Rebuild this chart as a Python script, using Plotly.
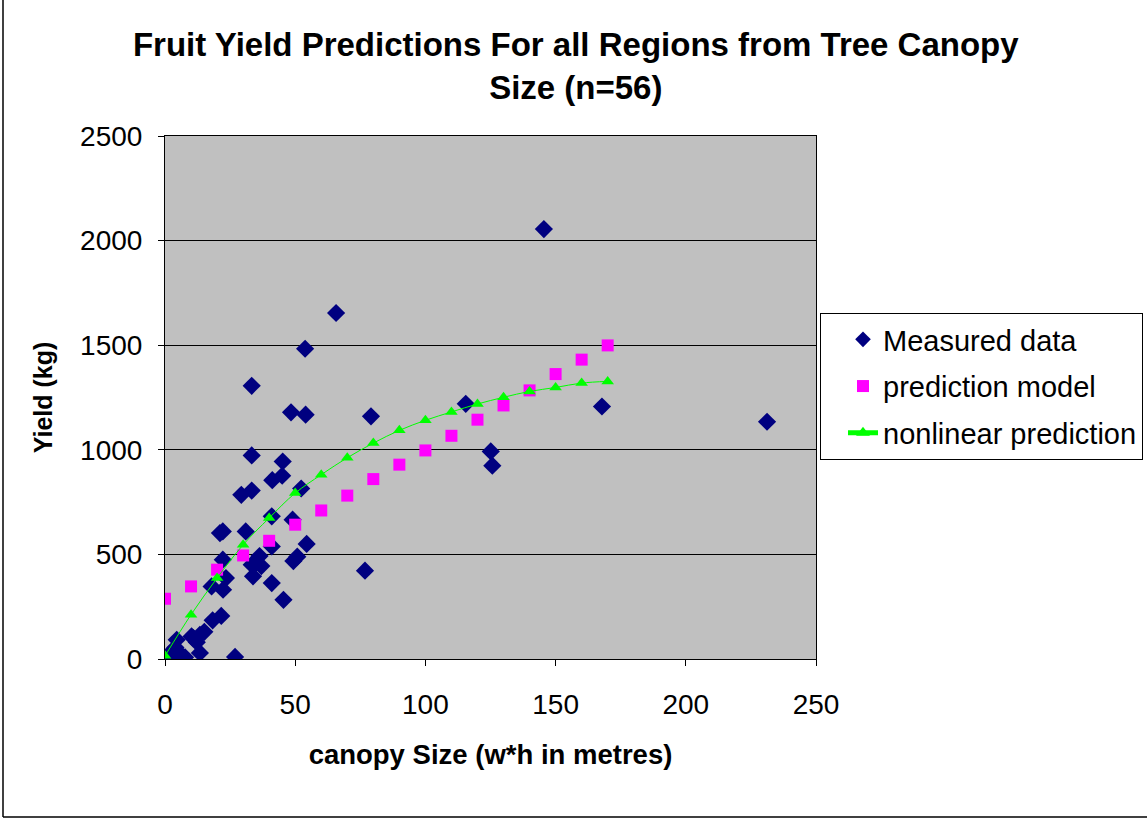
import plotly.graph_objects as go

# Measured data (canopy size, yield)
measured_x = [1.5, 3.2, 4.5, 5.8, 7.7, 4.0, 10.2, 12.2, 13.4, 15.1, 13.4, 18.3, 21.6, 17.9,
              22.3, 23.4, 22.2, 21.1, 22.2, 26.9, 29.3, 33.3, 31.0, 33.3, 33.3, 33.3, 37.0,
              33.8, 36.3, 41.2, 45.0, 45.2, 41.0, 41.0, 41.0, 45.5, 49.0, 50.8, 49.3, 52.3,
              54.4, 48.4, 54.0, 53.8, 65.7, 76.8, 79.1, 115.5, 125.1, 125.7, 145.5, 167.8,
              231.2, 10.9, 35.0, 2.5]
measured_y = [2, 44, 92, 25, 8, 55, 108, 80, 116, 130, 29, 185, 206, 347,
              331, 387, 475, 602, 610, 10, 785, 805, 610, 973, 1306, 451, 444,
              395, 492, 855, 876, 944, 682, 538, 363, 283, 666, 489, 468, 815,
              550, 1179, 1168, 1483, 1654, 422, 1160, 1220, 992, 924, 2055, 1207,
              1134, 100, 460, 20]

# Prediction model
pred_x = [0, 10, 20, 30, 40, 50, 60, 70, 80, 90, 100, 110, 120, 130, 140, 150, 160, 170]
pred_y = [288, 347, 427, 495, 565, 642, 710, 781, 860, 929, 997, 1067, 1144, 1212, 1284,
          1362, 1431, 1499]

# Nonlinear prediction
nl_x = [0, 10, 20, 30, 40, 50, 60, 70, 80, 90, 100, 110, 120, 130, 140, 150, 160, 170]
nl_y = [15, 212, 387, 546, 674, 793, 881, 962, 1032, 1093, 1141, 1181, 1219, 1251, 1279,
        1298, 1319, 1327]

title_text = "Fruit Yield Predictions For all Regions from Tree Canopy<br>Size (n=56)"
x_title = "canopy Size (w*h in metres)"
y_title = "Yield (kg)"

FONT = "Liberation Sans, Arial, sans-serif"

fig = go.Figure()
fig.add_trace(go.Scatter(
    x=measured_x, y=measured_y, mode="markers", name="Measured data",
    legendgroup="a",
    marker=dict(symbol="diamond", size=14, color="#000080",
                line=dict(width=0))))
fig.add_trace(go.Scatter(
    x=pred_x, y=pred_y, mode="markers", name="prediction model",
    legendgroup="b",
    marker=dict(symbol="square", size=12, color="#FF00FF",
                line=dict(width=0))))
fig.add_trace(go.Scatter(
    x=nl_x, y=nl_y, mode="lines+markers", name="nonlinear prediction",
    legendgroup="c",
    line=dict(color="#00FF00", width=1, shape="spline"),
    marker=dict(symbol="triangle-up", size=11, color="#00FF00",
                line=dict(width=0))))

L, R, T, B = 165, 1147 - 816, 136, 819 - 659
PW, PH = 816 - 165, 659 - 136

def px_x(p):
    return (p - L) / PW

def px_y(p):
    return (659 - p) / PH

fig.update_layout(
    width=1147, height=819,
    margin=dict(l=L, r=R, t=T, b=B, pad=0, autoexpand=False),
    paper_bgcolor="white",
    plot_bgcolor="#C0C0C0",
    font=dict(family=FONT, color="black", size=28),
    title=dict(text=title_text, x=0.502, xref="container", xanchor="center",
               y=1 - 56 / 819, yref="container", yanchor="middle",
               font=dict(family=FONT, size=33, color="black", weight="bold")),
    showlegend=True,
    legend=dict(x=px_x(820), y=px_y(313), xanchor="left", yanchor="top",
                bgcolor="white", bordercolor="black", borderwidth=1,
                font=dict(family=FONT, size=29, color="black"),
                tracegroupgap=6, indentation=22,
                itemsizing="constant"),
    xaxis=dict(range=[0, 250], tickvals=[0, 50, 100, 150, 200, 250],
               showgrid=False, zeroline=False,
               showline=True, linecolor="black", linewidth=1, mirror=True,
               ticks="outside", ticklen=6, tickcolor="black",
               ticklabelstandoff=14,
               tickfont=dict(family=FONT, size=28, color="black"),
               title=dict(text=x_title, standoff=26,
                          font=dict(family=FONT, size=27.5, color="black", weight="bold"))),
    yaxis=dict(range=[0, 2500], tickvals=[0, 500, 1000, 1500, 2000, 2500],
               showgrid=True, gridcolor="black", gridwidth=1, zeroline=False,
               showline=True, linecolor="black", linewidth=1, mirror=True,
               ticks="outside", ticklen=6, tickcolor="black",
               ticklabelstandoff=10,
               tickfont=dict(family=FONT, size=28, color="black"),
               title=dict(text=y_title, standoff=20,
                          font=dict(family=FONT, size=25, color="black", weight="bold"))),
)

# outer chart border (left and bottom visible in the reference)
fig.add_shape(type="line", xref="paper", yref="paper",
              x0=px_x(3), x1=px_x(3), y0=px_y(-5), y1=px_y(817),
              line=dict(color="black", width=1.5))
fig.add_shape(type="line", xref="paper", yref="paper",
              x0=px_x(3), x1=px_x(1150), y0=px_y(817), y1=px_y(817),
              line=dict(color="black", width=1.5))

fig.write_html("out.html")
